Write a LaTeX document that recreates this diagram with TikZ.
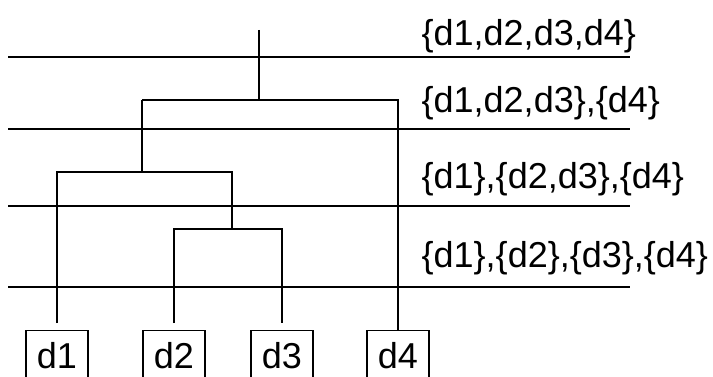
\documentclass[tikz,border=0pt]{standalone}
\usepackage{fontspec}
\setmainfont{Liberation Sans}
\usetikzlibrary{positioning}

\begin{document}
\begin{tikzpicture}[x=1pt, y=-1pt, line width=1.3pt,
        doc/.style={draw, anchor=north, minimum width=62pt, inner xsep=4pt, inner ysep=12pt,
            text height=26pt, text depth=0pt, font=\fontsize{36}{40}\selectfont},
        level/.style={anchor=base west, inner sep=0pt, font=\fontsize{36}{40}\selectfont}]
        \useasboundingbox (0,0) rectangle (713,377);
        \clip (0,0) rectangle (713,377);

        % Documents
        \node[doc] (d1) at (57,330) {d1};
        \node[doc] (d2) at (174,330) {d2};
        \node[doc] (d3) at (282,330) {d3};
        \node[doc] (d4) at (398,330) {d4};

        % Levels
        \foreach \y in {57,129,206,287}
            \draw (8,\y) -- (630,\y);
        \node[level] (l1) at (421,46) {\{d1,d2,d3,d4\}};
        \node[level] (l2) at (421,113) {\{d1,d2,d3\},\{d4\}};
        \node[level] (l3) at (421,189) {\{d1\},\{d2,d3\},\{d4\}};
        \node[level] (l4) at (421,267) {\{d1\},\{d2\},\{d3\},\{d4\}};

        % Merges
        \coordinate (top) at (259,30);
        \coordinate (m4) at (142,100);
        \coordinate (m1) at (232,172);
        \coordinate (m23) at (232,229);
        \draw (top) -- (top |- m4);
        \draw (m4) -- (m4 -| d4.north) -- (d4.north);
        \draw (m4) -- (m4 |- m1);
        \draw ([yshift=7pt]d1.north) |- (m1) -- (m23);
        \draw ([yshift=7pt]d2.north) |- (m23) -| ([yshift=7pt]d3.north);
    \end{tikzpicture}
\end{document}
